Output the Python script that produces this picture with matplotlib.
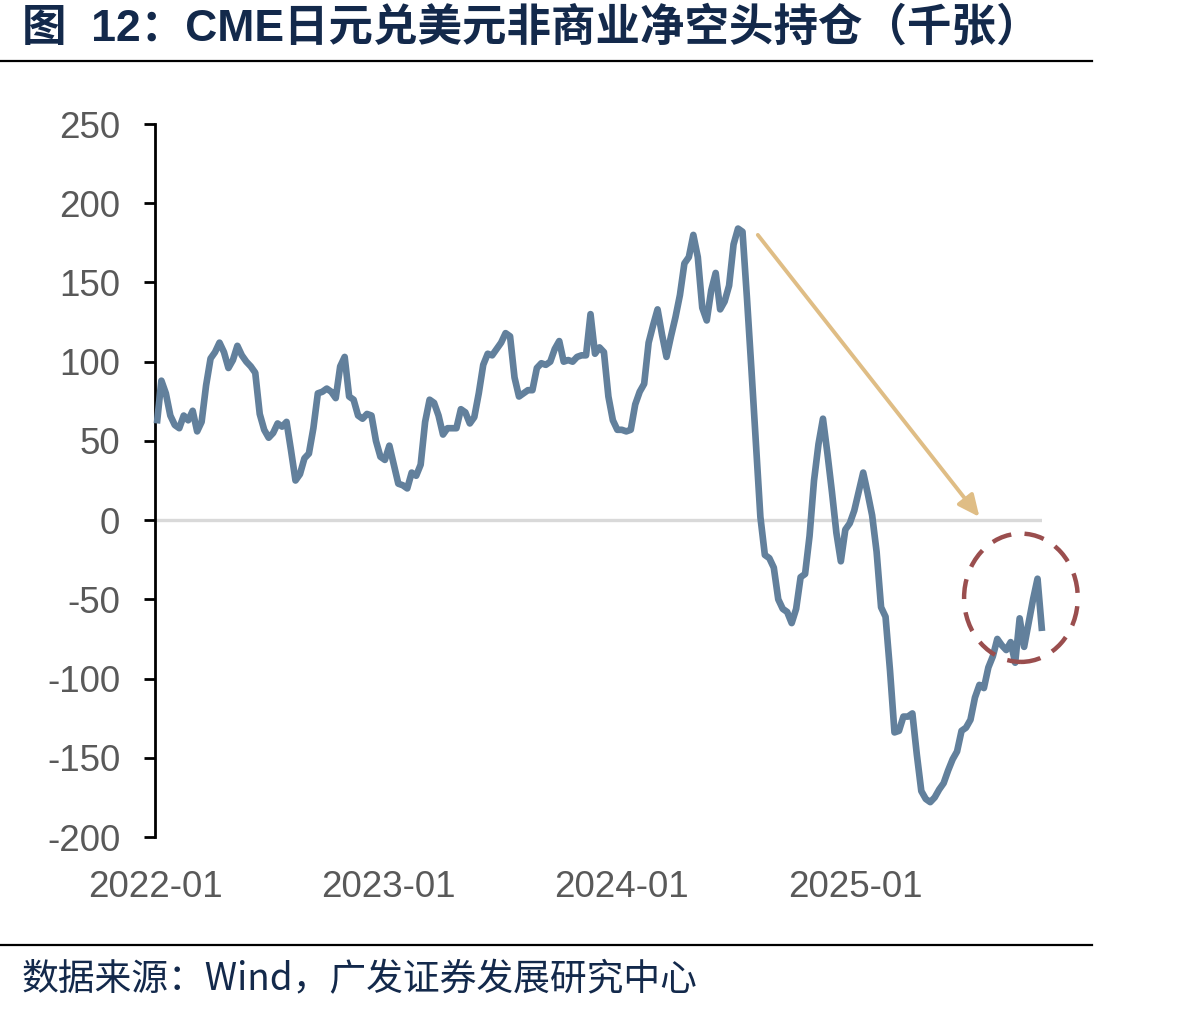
import numpy as np
import pandas as pd
import matplotlib
matplotlib.use("Agg")
import matplotlib.pyplot as plt
from matplotlib.patches import Ellipse

plt.rcParams['font.family'] = ['Liberation Sans', 'Noto Sans CJK SC', 'DejaVu Sans']

# Weekly CFTC report dates (Tuesdays) starting 2022-01-04
start_date = "2022-01-04"
n_weeks = 199

# Net non-commercial short positions in JPY/USD futures (thousand contracts)
net_short = [
    61, 88, 80, 66, 60, 58, 66, 63, 69, 56,
    62, 85, 102, 106, 112, 106, 96, 101, 110, 104,
    100, 97, 93, 67, 57, 52, 55, 61, 59, 62,
    44, 25, 29, 39, 42, 58, 80, 81, 83, 81,
    77, 97, 103, 78, 76, 66, 64, 67, 66, 50,
    40, 38, 47, 35, 23, 22, 20, 30, 28, 35,
    62, 76, 74, 66, 54, 58, 58, 58, 70, 68,
    61, 65, 80, 98, 105, 104, 108, 112, 118, 116,
    90, 78, 80, 82, 82, 96, 99, 98, 100, 108,
    113, 100, 101, 100, 103, 104, 104, 130, 105, 109,
    106, 78, 63, 57, 57, 56, 57, 73, 81, 86,
    112, 123, 133, 117, 103, 116, 128, 142, 162, 166,
    180, 166, 134, 126, 145, 156, 133, 138, 148, 174,
    184, 182, 140, 95, 48, 2, -22, -24, -30, -50,
    -56, -58, -65, -56, -36, -34, -10, 25, 48, 64,
    42, 18, -8, -26, -6, -2, 6, 18, 30, 17,
    3, -20, -55, -61, -95, -134, -133, -124, -124, -122,
    -148, -171, -176, -178, -175, -170, -166, -158, -151, -146,
    -133, -131, -126, -112, -104, -106, -93, -86, -75, -79,
    -82, -77, -90, -62, -80, -65, -50, -37, -70,
]

xtick_dates = ["2022-01-01", "2023-01-01", "2024-01-01", "2025-01-01"]
xtick_labels = ["2022-01", "2023-01", "2024-01", "2025-01"]
yticks = [250, 200, 150, 100, 50, 0, -50, -100, -150, -200]

title = "图  12：CME日元兑美元非商业净空头持仓（千张）"
source = "数据来源：Wind，广发证券发展研究中心"

dates = pd.date_range(start_date, periods=n_weeks, freq="7D")
values = np.array(net_short[:n_weeks], dtype=float)

W, H = 1203, 1015
fig = plt.figure(figsize=(W / 100, H / 100), dpi=100)
fig.patch.set_facecolor("white")

ax = fig.add_axes([155 / W, 1 - 837 / H, (1042 - 155) / W, (837 - 124) / H])
ax.set_facecolor("white")

ax.axhline(0, color="#d9d9d9", lw=2.4, zorder=1)
ax.plot(dates, values, color="#62809c", lw=4.8, solid_joinstyle="round",
        solid_capstyle="butt", zorder=3, clip_on=False)

ax.set_ylim(-200, 250)
ax.set_xlim(pd.Timestamp("2022-01-01"), dates[-1])
ax.set_yticks(yticks)
ax.set_yticklabels([str(v) for v in yticks])
ax.set_xticks(pd.to_datetime(xtick_dates))
ax.set_xticklabels(xtick_labels)

for s in ["top", "right", "bottom"]:
    ax.spines[s].set_visible(False)
ax.spines["left"].set_linewidth(2)
ax.spines["left"].set_color("black")
ax.tick_params(axis="y", direction="out", length=8, width=2, color="black",
               labelsize=26.5, labelcolor="#595959", pad=17)
ax.tick_params(axis="x", length=0, labelsize=26.5, labelcolor="#595959", pad=24)
for lab in ax.get_xticklabels() + ax.get_yticklabels():
    lab.set_fontfamily(["Liberation Sans", "DejaVu Sans"])

# Downward arrow annotation
ax.annotate("", xy=(pd.Timestamp("2025-07-15"), 2), xytext=(pd.Timestamp("2024-08-02"), 180),
            arrowprops=dict(arrowstyle="-|>,head_length=1.3,head_width=0.6",
                            color="#dfbd85", lw=2.8, shrinkA=0, shrinkB=0),
            zorder=4, annotation_clip=False)

# Dashed circle highlight
ell = Ellipse((pd.Timestamp("2025-09-18"), -49), width=178, height=81,
              fill=False, ec="#9a4e4e", lw=3.2, ls=(0, (4.5, 3)), zorder=5, clip_on=False)
ax.add_patch(ell)

# Title and rules
fig.text(22 / W, 1 - 28 / H, title, fontsize=32, fontweight="bold", color="#13294b",
         ha="left", va="center", family=["Liberation Sans", "Noto Sans CJK SC"])
fig.add_artist(plt.Line2D([0, 1092 / W], [1 - 61 / H, 1 - 61 / H], color="black", lw=1.6))
fig.add_artist(plt.Line2D([0, 1092 / W], [1 - 945 / H, 1 - 945 / H], color="black", lw=1.6))
fig.text(22 / W, 1 - 980 / H, source, fontsize=26.5, color="#13294b",
         ha="left", va="center", family=["Noto Sans CJK SC", "DejaVu Sans"])

fig.savefig("out.png", dpi=100, facecolor="white")
